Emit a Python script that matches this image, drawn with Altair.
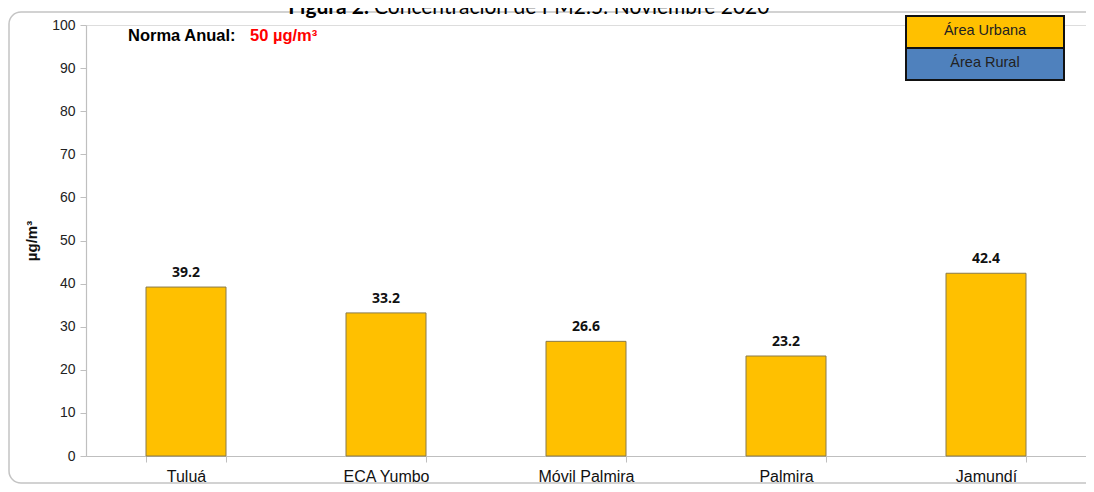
import altair as alt
import pandas as pd

stations = ["Tuluá", "ECA Yumbo", "Móvil Palmira", "Palmira", "Jamundí"]
values = [39.2, 33.2, 26.6, 23.2, 42.4]
labels = ["39.2", "33.2", "26.6", "23.2", "42.4"]
legend_items = ["Área Urbana", "Área Rural"]
legend_colors = ["#FFC000", "#4F81BD"]

df = pd.DataFrame({"station": stations, "value": values, "label": labels})
one = pd.DataFrame({"k": [0]})

W, H = 1000, 431

x = alt.X("station:N", sort=stations, title=None,
          scale=alt.Scale(paddingInner=0.6, paddingOuter=0.3),
          axis=alt.Axis(labelAngle=0, labelFont="Liberation Sans", labelFontSize=16,
                        labelColor="#111", domainColor="#bfbfbf", tickColor="#bfbfbf",
                        tickBand="extent", tickSize=6, labelPadding=6, domainWidth=1.2))
y = alt.Y("value:Q", title="µg/m³",
          scale=alt.Scale(domain=[0, 100], nice=False),
          axis=alt.Axis(values=list(range(0, 101, 10)), grid=False,
                        labelFont="Liberation Sans", labelFontSize=14, labelColor="#222",
                        domainColor="#bfbfbf", tickColor="#bfbfbf", tickSize=6,
                        labelPadding=5, domainWidth=1.2,
                        titleFont="Liberation Sans", titleFontSize=15, titleFontWeight="bold",
                        titleColor="#111", titlePadding=12))

bars = alt.Chart(df).mark_bar(color="#FFC000", stroke="#8a7a4a", strokeWidth=1).encode(x=x, y=y)
vals = alt.Chart(df).mark_text(font="Open Sans", fontSize=14, fontWeight="bold", color="#111",
                               baseline="bottom", dy=-7).encode(
    x=alt.X("station:N", sort=stations), y="value:Q", text="label:N")

frame = alt.Chart(one).mark_rect(fill=None, stroke="#c4c4c4", strokeWidth=1.5, cornerRadius=12).encode(
    x=alt.value(-77), x2=alt.value(1030), y=alt.value(-13), y2=alt.value(458))

title1 = alt.Chart(one).mark_text(font="Lato", fontSize=21, fontWeight="bold", align="right",
                                  baseline="alphabetic", color="#000").encode(
    x=alt.value(283), y=alt.value(-11), text=alt.value("Figura 2."))
title2 = alt.Chart(one).mark_text(font="Lato", fontSize=21, align="left",
                                  baseline="alphabetic", color="#000").encode(
    x=alt.value(288), y=alt.value(-11), text=alt.value("Concentración de PM2.5: Noviembre 2020"))

norma1 = alt.Chart(one).mark_text(font="Liberation Sans", fontSize=16.5, fontWeight="bold",
                                  align="left", baseline="alphabetic", color="#000").encode(
    x=alt.value(42), y=alt.value(16), text=alt.value("Norma Anual:"))
norma2 = alt.Chart(one).mark_text(font="Liberation Sans", fontSize=16.5, fontWeight="bold",
                                  align="left", baseline="alphabetic", color="#FF0000").encode(
    x=alt.value(164), y=alt.value(16), text=alt.value("50 µg/m³"))

leg = pd.DataFrame({"item": legend_items, "color": legend_colors,
                    "y0": [-9, 23], "y1": [23, 55]})
leg_rect = alt.Chart(leg).mark_rect(stroke="#111", strokeWidth=2).encode(
    x=alt.value(820), x2=alt.value(978),
    y=alt.Y("y0:Q", scale=None), y2="y1:Q",
    color=alt.Color("color:N", scale=None, legend=None))
leg_text = alt.Chart(leg).mark_text(font="Liberation Sans", fontSize=14.5, color="#222",
                                    baseline="middle").encode(
    x=alt.value(899), y=alt.Y("ym:Q", scale=None), text="item:N").transform_calculate(
    ym="(datum.y0 + datum.y1) / 2 - 1")

chart = alt.layer(frame, bars, vals, title1, title2, norma1, norma2, leg_rect, leg_text).properties(
    width=W, height=H,
    autosize=alt.AutoSizeParams(type="none"),
    padding={"left": 78, "top": 17, "right": 0, "bottom": 28},
).configure_view(stroke=None).configure(background="white")

chart.save("out.html", embed_options={"renderer": "svg", "actions": False})
